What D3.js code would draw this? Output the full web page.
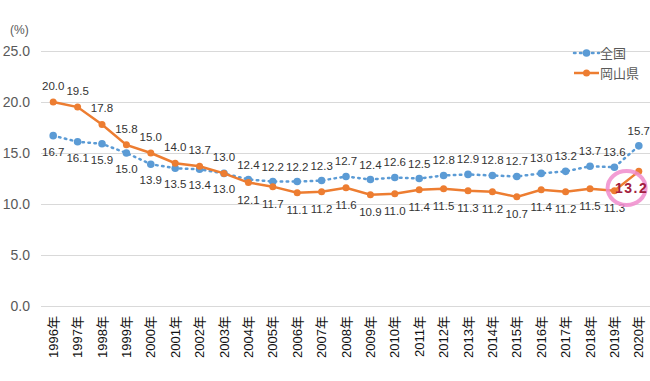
<!DOCTYPE html>
<html><head><meta charset="utf-8">
<script src="https://cdn.jsdelivr.net/npm/d3@7"></script>
<style>
body{margin:0;background:#fff;}
svg{display:block;}
</style></head>
<body>
<svg id="chart" width="650" height="381"></svg>
<script>
const years = ["1996","1997","1998","1999","2000","2001","2002","2003","2004","2005","2006","2007","2008","2009","2010","2011","2012","2013","2014","2015","2016","2017","2018","2019","2020"];
const national = [16.7,16.1,15.9,15.0,13.9,13.5,13.4,13.0,12.4,12.2,12.2,12.3,12.7,12.4,12.6,12.5,12.8,12.9,12.8,12.7,13.0,13.2,13.7,13.6,15.7];
const okayama = [20.0,19.5,17.8,15.8,15.0,14.0,13.7,13.0,12.1,11.7,11.1,11.2,11.6,10.9,11.0,11.4,11.5,11.3,11.2,10.7,11.4,11.2,11.5,11.3,13.2];
const yTicks = [0,5,10,15,20,25];
const seriesNames = ["全国","岡山県"];

const svg = d3.select("#chart");
const x = d3.scaleBand().domain(years).range([41,651]).padding(0);
const y = d3.scaleLinear().domain([0,25]).range([306,51]);
const cx = d => x(d) + x.bandwidth()/2;
const blue = "#5b9bd5", orange = "#ed7d31";

// grid + y labels
const yAxis = d3.axisLeft(y).tickValues(yTicks).tickSize(-(651-41)).tickFormat(d3.format(".1f"));
const ga = svg.append("g").attr("transform","translate(41,0)").call(yAxis);
ga.select(".domain").remove();
ga.selectAll(".tick line").attr("stroke","#d9d9d9").attr("stroke-width",1);
ga.selectAll(".tick text").attr("x",-11).attr("fill","#595959")
  .style("font-family","Liberation Sans, Arial, sans-serif").style("font-size","14px");
svg.append("text").attr("x",10).attr("y",34).text("(%)")
  .attr("fill","#595959").style("font-family","Liberation Sans, Arial, sans-serif").style("font-size","12px");

// x labels
const xAxis = d3.axisBottom(x).tickSize(0).tickFormat(d => d + "年");
const gx = svg.append("g").attr("transform","translate(0,306)").call(xAxis);
gx.select(".domain").remove();
gx.selectAll(".tick text")
  .attr("transform","rotate(-90)")
  .attr("text-anchor","end").attr("x",-10).attr("y",0).attr("dy","0.36em")
  .attr("fill","#111")
  .style("font-family","Liberation Sans, Arial, 'Noto Sans CJK JP', sans-serif").style("font-size","13px");

const line = d3.line().x((d,i)=>cx(years[i])).y(d=>y(d));

// national
svg.append("path").datum(national).attr("d",line).attr("fill","none")
  .attr("stroke",blue).attr("stroke-width",2.5).attr("stroke-dasharray","1.5,4.5").attr("stroke-linecap","round");
svg.append("g").selectAll("circle").data(national).join("circle")
  .attr("cx",(d,i)=>cx(years[i])).attr("cy",d=>y(d)).attr("r",3.8).attr("fill",blue);

// okayama
svg.append("path").datum(okayama).attr("d",line).attr("fill","none")
  .attr("stroke",orange).attr("stroke-width",2.5);
svg.append("g").selectAll("circle").data(okayama).join("circle")
  .attr("cx",(d,i)=>cx(years[i])).attr("cy",d=>y(d)).attr("r",3.5).attr("fill",orange);

// data labels
const lblFont = "'Liberation Sans Narrow', 'Arial Narrow', Arial, sans-serif";
const okAbove = i => i <= 7;
svg.append("g").selectAll("text").data(national).join("text")
  .attr("x",(d,i)=>cx(years[i])).attr("y",(d,i)=> okAbove(i) ? y(d)+20 : y(d)-11)
  .attr("text-anchor","middle").attr("fill","#333")
  .style("font-family",lblFont).style("font-size","11.5px")
  .text(d=>d.toFixed(1));
svg.append("g").selectAll("text").data(okayama.slice(0,-1)).join("text")
  .attr("x",(d,i)=>cx(years[i])).attr("y",(d,i)=> okAbove(i) ? y(d)-12 : y(d)+21)
  .attr("text-anchor","middle").attr("fill","#333")
  .style("font-family",lblFont).style("font-size","11.5px")
  .text(d=>d.toFixed(1));

// highlight for last Okayama value
const last = okayama.length-1;
const hx = (cx(years[last-1])+cx(years[last]))/2;
const hy = (y(okayama[last-1])+y(okayama[last]))/2 + 7;
svg.append("ellipse").attr("cx",hx).attr("cy",hy).attr("rx",19).attr("ry",17)
  .attr("fill","none").attr("stroke","#f08ccc").attr("stroke-width",4).attr("opacity",0.85);
svg.append("text").attr("x",hx+5).attr("y",hy+5).attr("text-anchor","middle")
  .attr("fill","#a3203e").style("font-family","Liberation Sans, Arial, sans-serif")
  .style("font-size","14px").style("font-weight","600").style("letter-spacing","1.5px")
  .text(okayama[last].toFixed(1));

// legend
const lg = svg.append("g");
const legY = [53,73];
lg.append("line").attr("x1",574).attr("x2",599).attr("y1",legY[0]).attr("y2",legY[0])
  .attr("stroke",blue).attr("stroke-width",2.5).attr("stroke-dasharray","1.5,4.5").attr("stroke-linecap","round");
lg.append("circle").attr("cx",586.5).attr("cy",legY[0]).attr("r",3.8).attr("fill",blue);
lg.append("line").attr("x1",574).attr("x2",599).attr("y1",legY[1]).attr("y2",legY[1])
  .attr("stroke",orange).attr("stroke-width",2.5);
lg.append("circle").attr("cx",586.5).attr("cy",legY[1]).attr("r",3.5).attr("fill",orange);
lg.selectAll("text").data(seriesNames).join("text")
  .attr("x",600).attr("y",(d,i)=>legY[i]).attr("dy","0.35em")
  .attr("fill","#595959").style("font-family","'Noto Sans CJK JP', sans-serif").style("font-size","13px")
  .text(d=>d);
</script>
</body></html>
